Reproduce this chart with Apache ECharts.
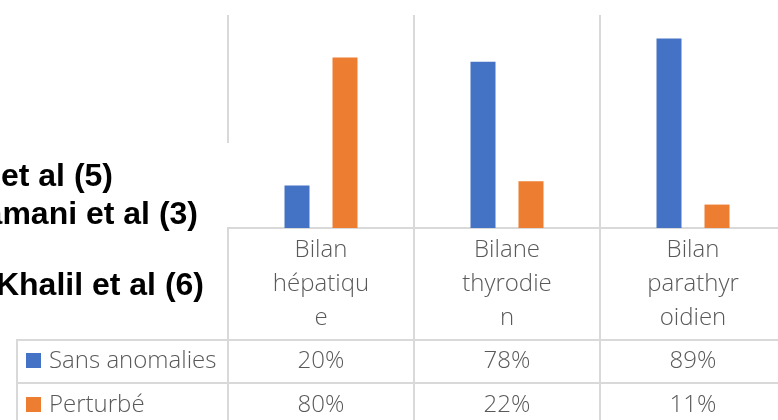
<!DOCTYPE html>
<html>
<head>
<meta charset="utf-8">
<script src="https://cdn.jsdelivr.net/npm/echarts@6/dist/echarts.min.js"></script>
<style>html,body{margin:0;padding:0;background:#fff;}#c{width:778px;height:420px;}</style>
</head>
<body>
<div id="c"></div>
<script>
const categories = ['Bilan hépatique', 'Bilane thyrodien', 'Bilan parathyroidien'];
const seriesNames = ['Sans anomalies', 'Perturbé'];
const sansAnomalies = [20, 78, 89];
const perturbe = [80, 22, 11];
const seriesColors = ['#4472C4', '#ED7D31'];
const sideLabels = ['et al (5)', 'amani et al (3)', 'Khalil et al (6)'];

function wrap(s) {
  const out = [];
  s.split(' ').forEach(w => { for (let i = 0; i < w.length; i += 8) out.push(w.slice(i, i + 8)); });
  return out.join('\n');
}

const FONT = '"Open Sans", sans-serif';
const GRAY = '#595959';
const LINE = '#d9d9d9';
const FS = 24;

const chart = echarts.init(document.getElementById('c'), null, {renderer: 'canvas'});
chart.setOption({
  animation: false,
  backgroundColor: '#fff',
  grid: {left: 228, width: 558, top: 15, bottom: 192, containLabel: false, outerBoundsMode: 'none'},
  xAxis: {
    type: 'category', data: categories,
    axisLine: {show: true, lineStyle: {color: LINE, width: 2}},
    axisTick: {show: false},
    splitLine: {show: true, lineStyle: {color: LINE, width: 2}},
    axisLabel: {
      formatter: v => wrap(v), color: GRAY, fontFamily: FONT, fontWeight: 300,
      fontSize: FS, lineHeight: 34, margin: 5, interval: 0
    }
  },
  yAxis: {type: 'value', min: 0, max: 100, show: false, splitLine: {show: false}},
  series: [
    {name: seriesNames[0], type: 'bar', data: sansAnomalies, barWidth: 25, barGap: '92%', itemStyle: {color: seriesColors[0]}},
    {name: seriesNames[1], type: 'bar', data: perturbe, barWidth: 25, itemStyle: {color: seriesColors[1]}}
  ]
});

const gx = i => chart.convertToPixel({xAxisIndex: 0}, i);
const half = (gx(1) - gx(0)) / 2;
const rowLines = [340, 383];
const rowCenters = [361, 405];
const g = [];
// white patch where the side text box hides the left line
g.push({type: 'rect', shape: {x: 219, y: 143, width: 12, height: 84}, style: {fill: '#fff'}, z: 10});
// table lines
const right = 800;
g.push({type: 'line', shape: {x1: gx(0) - half, y1: 228, x2: gx(0) - half, y2: 420}, style: {stroke: LINE, lineWidth: 2}, z: 11});
for (let i = 0; i < categories.length; i++) {
  const xb = gx(i) + half;
  g.push({type: 'line', shape: {x1: xb, y1: 228, x2: xb, y2: 420}, style: {stroke: LINE, lineWidth: 2}, z: 11});
}
rowLines.forEach(y => g.push({type: 'line', shape: {x1: 16, y1: y, x2: right, y2: y}, style: {stroke: LINE, lineWidth: 2}, z: 11}));
g.push({type: 'line', shape: {x1: 17, y1: rowLines[0], x2: 17, y2: 420}, style: {stroke: LINE, lineWidth: 2}, z: 11});
// legend keys and names
const rows = [sansAnomalies, perturbe];
seriesNames.forEach((n, r) => {
  g.push({type: 'rect', shape: {x: 26, y: rowCenters[r] - 8, width: 15, height: 15}, style: {fill: seriesColors[r]}, z: 12});
  g.push({type: 'text', x: 49, y: rowCenters[r], style: {text: n, fill: GRAY, font: '300 ' + FS + 'px ' + FONT, textAlign: 'left', textVerticalAlign: 'middle'}, z: 12});
  rows[r].forEach((v, i) => {
    g.push({type: 'text', x: gx(i), y: rowCenters[r], style: {text: v + '%', fill: GRAY, font: '300 ' + FS + 'px ' + FONT, textAlign: 'center', textVerticalAlign: 'middle'}, z: 12});
  });
});
// side text
const sideX = [113, 198, 204];
const sideY = [177, 215, 286];
sideLabels.forEach((t, i) => {
  g.push({type: 'text', x: sideX[i], y: sideY[i], style: {text: t, fill: '#000', font: 'bold 32px "Liberation Sans", Arial, sans-serif', textAlign: 'right', textVerticalAlign: 'middle'}, z: 13});
});
chart.setOption({graphic: g});
</script>
</body>
</html>
